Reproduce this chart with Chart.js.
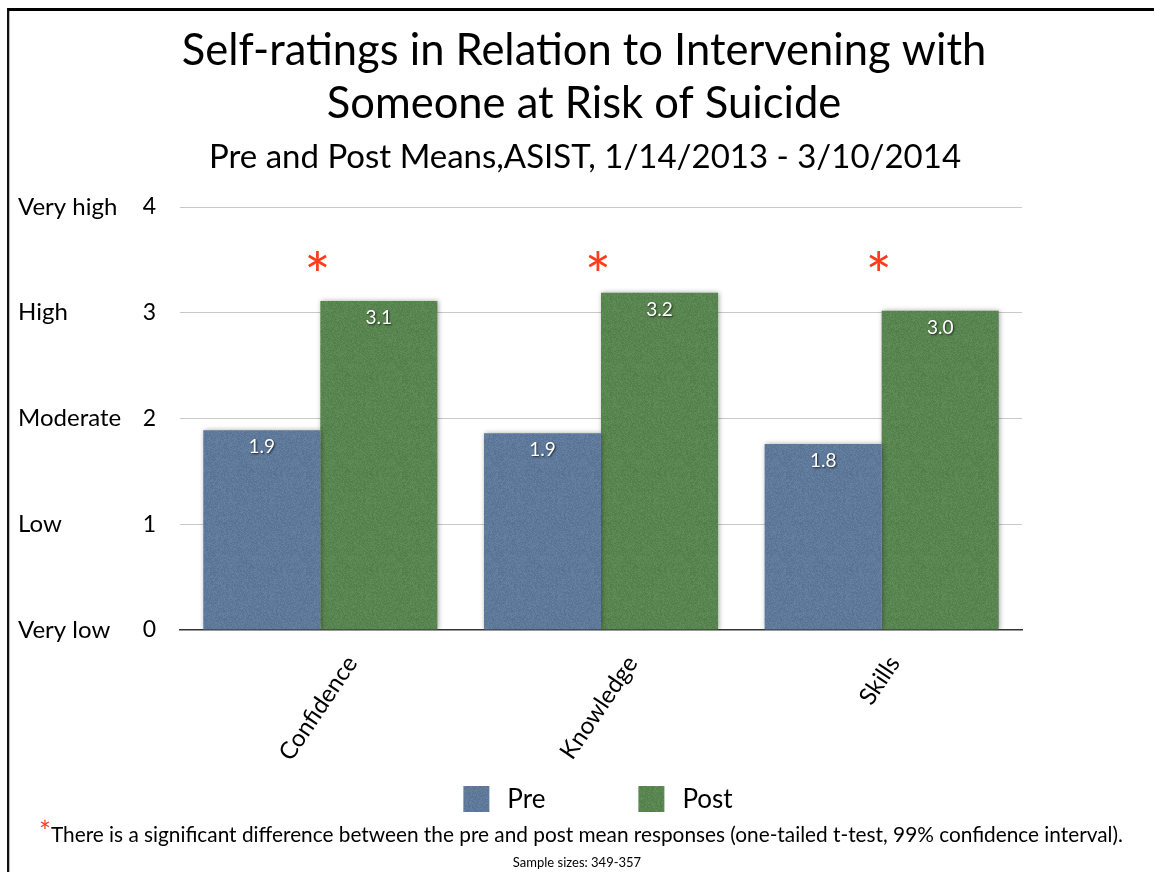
<!DOCTYPE html>
<html>
<head>
<meta charset="utf-8">
<script src="https://cdn.jsdelivr.net/npm/chart.js@4.4.1/dist/chart.umd.min.js"></script>
<style>
  body { margin: 0; background: #fff; }
  #frame {
    position: absolute; left: 7px; top: 8px; width: 1147px; height: 864px;
    border-top: 3px solid #000; border-left: 2px solid #111;
    box-shadow: inset 1px 0 0 #bbb;
  }
  #ratingsChart { position: absolute; left: 0; top: 0; }
</style>
</head>
<body>
<div id="frame"></div>
<canvas id="ratingsChart" width="1154" height="872"></canvas>
<script>
const categories = ["Confidence", "Knowledge", "Skills"];
const preMeans = [1.89, 1.86, 1.76];
const postMeans = [3.11, 3.19, 3.02];
const significant = [true, true, true];
const yTicks = [0, 1, 2, 3, 4];
const tierNames = ["Very low", "Low", "Moderate", "High", "Very high"];

const titleLines = ["Self-ratings in Relation to Intervening with", "Someone at Risk of Suicide"];
const subtitleText = "Pre and Post Means,ASIST, 1/14/2013 - 3/10/2014";
const footnoteText = "There is a significant difference between the pre and post mean responses (one-tailed t-test, 99% confidence interval).";
const sampleText = "Sample sizes: 349-357";

const FONT = "Lato, 'Open Sans', sans-serif";

// speckled paper-like fill for the bars
function texture(r, g, b) {
  const c = document.createElement("canvas");
  c.width = 96; c.height = 96;
  const cx = c.getContext("2d");
  const img = cx.createImageData(96, 96);
  for (let i = 0; i < 96 * 96; i++) {
    const h = Math.sin(i * 12.9898 + 78.233) * 43758.5453;
    const n = (h - Math.floor(h) - 0.5) * 18;
    img.data[i * 4] = r + n;
    img.data[i * 4 + 1] = g + n;
    img.data[i * 4 + 2] = b + n;
    img.data[i * 4 + 3] = 255;
  }
  cx.putImageData(img, 0, 0);
  return cx.createPattern(c, "repeat");
}

const preFill = texture(94, 121, 154);
const postFill = texture(89, 133, 80);

const barShadow = {
  id: "barShadow",
  beforeDatasetsDraw(chart) {
    const ctx = chart.ctx;
    ctx.save();
    ctx.shadowColor = "rgba(0,0,0,0.35)";
    ctx.shadowBlur = 5;
    ctx.shadowOffsetX = 1;
    ctx.shadowOffsetY = 0;
  },
  afterDatasetsDraw(chart) {
    chart.ctx.restore();
  }
};

const decorations = {
  id: "decorations",
  afterDraw(chart) {
    const ctx = chart.ctx;
    const xs = chart.scales.x;
    const ys = chart.scales.y;
    const area = chart.chartArea;

    ctx.save();
    ctx.fillStyle = "#000";
    ctx.textBaseline = "alphabetic";
    ctx.textAlign = "center";

    // titles
    ctx.font = "43.5px " + FONT;
    ctx.fillText(titleLines[0], 584, 65);
    ctx.fillText(titleLines[1], 584, 118);
    ctx.font = "33px " + FONT;
    ctx.fillText(subtitleText, 585, 168);

    // rating names beside the numeric ticks
    ctx.font = "24px " + FONT;
    ctx.textAlign = "left";
    ctx.textBaseline = "middle";
    yTicks.forEach((v, i) => {
      ctx.fillText(tierNames[i], 18, ys.getPixelForValue(v));
    });

    // rotated category labels, centred under each group
    const ang = 56 * Math.PI / 180;
    ctx.font = "24px " + FONT;
    ctx.textAlign = "center";
    categories.forEach((cat, i) => {
      const w = ctx.measureText(cat).width;
      const h = 24;
      const cy = area.bottom + 22 + (w * Math.sin(ang) + h * Math.cos(ang)) / 2;
      ctx.save();
      ctx.translate(xs.getPixelForValue(i) - 2, cy);
      ctx.rotate(-ang);
      ctx.fillText(cat, 0, 0);
      ctx.restore();
    });

    // significance markers
    ctx.fillStyle = "#ff3b1a";
    ctx.font = "62px " + FONT;
    categories.forEach((cat, i) => {
      if (significant[i]) {
        ctx.fillText("*", xs.getPixelForValue(i) - 3, ys.getPixelForValue(3.5) + 18);
      }
    });

    // value labels inside the bar tops
    ctx.font = "19px " + FONT;
    ctx.fillStyle = "#fff";
    ctx.shadowColor = "rgba(0,0,0,0.7)";
    ctx.shadowBlur = 2;
    ctx.shadowOffsetX = 1;
    ctx.shadowOffsetY = 1;
    chart.data.datasets.forEach((ds, di) => {
      chart.getDatasetMeta(di).data.forEach((bar, i) => {
        ctx.fillText(ds.data[i].toFixed(1), bar.x, bar.y + 17);
      });
    });
    ctx.shadowColor = "transparent";

    // legend
    ctx.font = "26px " + FONT;
    ctx.textAlign = "left";
    const box = 26, gapText = 18, gapItem = 93;
    const items = chart.data.datasets.map(ds => ({
      label: ds.label, fill: ds.backgroundColor, w: box + gapText + ctx.measureText(ds.label).width
    }));
    const total = items.reduce((s, it) => s + it.w, 0) + gapItem * (items.length - 1);
    let lx = (area.left + area.right) / 2 - 3 - total / 2;
    const ly = 799;
    items.forEach(it => {
      ctx.fillStyle = it.fill;
      ctx.fillRect(lx, ly - box / 2, box, box);
      ctx.fillStyle = "#000";
      ctx.fillText(it.label, lx + box + gapText, ly + 1);
      lx += it.w + gapItem;
    });

    // footnotes
    ctx.textBaseline = "alphabetic";
    ctx.font = "20.8px " + FONT;
    const fw = ctx.measureText(footnoteText).width;
    ctx.font = "28px " + FONT;
    const sw = ctx.measureText("*").width;
    let fx = 581 - (fw + sw) / 2;
    ctx.fillStyle = "#ff3b1a";
    ctx.fillText("*", fx, 842);
    ctx.fillStyle = "#000";
    ctx.font = "20.8px " + FONT;
    ctx.fillText(footnoteText, fx + sw, 842);
    ctx.font = "13px " + FONT;
    ctx.textAlign = "center";
    ctx.fillText(sampleText, 577, 867);

    ctx.restore();
  }
};

const chart = new Chart(document.getElementById("ratingsChart"), {
  type: "bar",
  data: {
    labels: categories,
    datasets: [
      { label: "Pre", data: preMeans, backgroundColor: preFill },
      { label: "Post", data: postMeans, backgroundColor: postFill }
    ]
  },
  options: {
    responsive: false,
    animation: false,
    layout: { padding: { left: 140, right: 132, top: 207, bottom: 242 } },
    datasets: {
      bar: { categoryPercentage: 0.834, barPercentage: 1.0, borderWidth: 0 }
    },
    plugins: {
      legend: { display: false },
      title: { display: false },
      tooltip: { enabled: false }
    },
    scales: {
      x: {
        grid: { display: false, drawTicks: false },
        border: { display: true, color: "#333", width: 1.5 },
        ticks: { display: false }
      },
      y: {
        min: 0,
        max: 4,
        afterFit: scale => { scale.width = 40; },
        afterBuildTicks: scale => { scale.ticks = yTicks.map(v => ({ value: v })); },
        grid: {
          drawTicks: false,
          color: ctx => ctx.tick && ctx.tick.value === 0 ? "rgba(0,0,0,0)" : "#c8c8c8",
          lineWidth: 1
        },
        border: { display: false },
        ticks: {
          padding: 24,
          color: "#000",
          font: { family: FONT, size: 23 }
        }
      }
    }
  },
  plugins: [barShadow, decorations]
});
</script>
</body>
</html>
